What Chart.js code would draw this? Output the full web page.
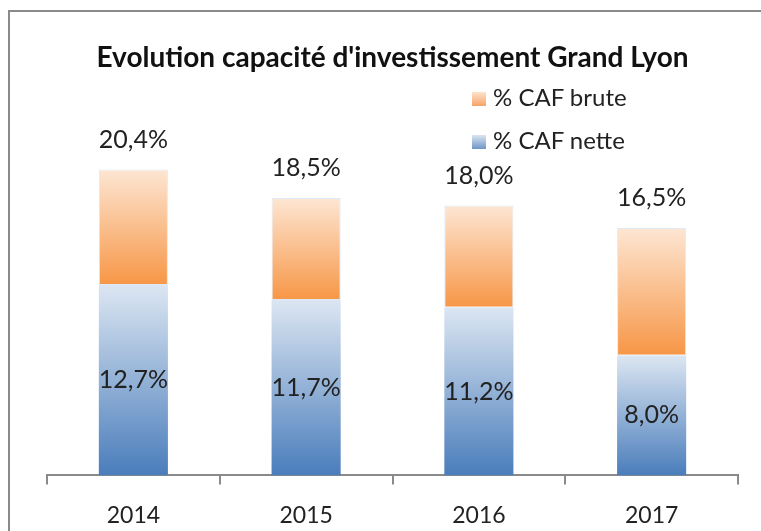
<!DOCTYPE html>
<html>
<head>
<meta charset="utf-8">
<script src="https://cdn.jsdelivr.net/npm/chart.js@4/dist/chart.umd.min.js"></script>
<style>
body { margin:0; background:#fff; width:761px; height:531px; overflow:hidden; position:relative; font-family: Lato, "Open Sans", sans-serif; }
#frame { position:absolute; left:8px; top:10px; width:800px; height:600px; border-left:2px solid #8a8a8a; border-top:2px solid #8a8a8a; }
#wrap { position:absolute; left:0; top:0; width:761px; height:546px; }
.leg { position:absolute; left:472px; font-size:24px; color:#222; line-height:28px; }
.leg span.sq { display:inline-block; width:14px; height:14px; margin-right:7px; vertical-align:0px; }
</style>
</head>
<body>
<div id="frame"></div>
<div id="wrap"><canvas id="chart" width="761" height="546"></canvas></div>
<div class="leg" style="top:83px"><span class="sq" style="background:linear-gradient(#fde3cc,#f7a468)"></span>% CAF brute</div>
<div class="leg" style="top:126px"><span class="sq" style="background:linear-gradient(#dbe5f1,#6d95c8)"></span>% CAF nette</div>
<script>
// données
const annees = ['2014', '2015', '2016', '2017'];
const cafNette = [12.7, 11.7, 11.2, 8.0];
const cafBrute = [20.4, 18.5, 18.0, 16.5];

function fmt(v) {
	return v.toFixed(1).replace('.', ',') + '%';
}

function degrade(ctx, haut, bas) {
	const chart = ctx.chart;
	if (!chart.chartArea || ctx.type !== 'data') return bas;
	const y = chart.scales.y;
	const raw = ctx.raw;
	let lo = 0, hi = raw;
	if (Array.isArray(raw)) { lo = raw[0]; hi = raw[1]; }
	const g = chart.ctx.createLinearGradient(0, y.getPixelForValue(hi), 0, y.getPixelForValue(lo));
	g.addColorStop(0, haut);
	g.addColorStop(1, bas);
	return g;
}

const etiquettes = {
	id: 'etiquettes',
	afterDatasetsDraw(chart) {
		const c = chart.ctx;
		c.save();
		c.font = '25px Lato, "Open Sans", sans-serif';
		c.fillStyle = '#222';
		c.textAlign = 'center';
		c.textBaseline = 'middle';
		chart.getDatasetMeta(0).data.forEach(function (bar, i) {
			c.fillText(fmt(cafBrute[i]), bar.x, bar.y - 30);
		});
		chart.getDatasetMeta(1).data.forEach(function (bar, i) {
			c.fillText(fmt(cafNette[i]), bar.x, (bar.y + bar.base) / 2);
		});
		c.restore();
	}
};

new Chart(document.getElementById('chart'), {
	type: 'bar',
	data: {
		labels: annees,
		datasets: [{
			label: '% CAF brute',
			data: cafBrute.map(function (v, i) { return [cafNette[i], v]; }),
			backgroundColor: function (ctx) { return degrade(ctx, '#fde6d3', '#f79646'); },
			borderColor: 'rgba(200,220,240,0.6)',
			borderWidth: 1,
			borderSkipped: false,
			grouped: false,
			order: 2
		}, {
			label: '% CAF nette',
			data: cafNette,
			backgroundColor: function (ctx) { return degrade(ctx, '#dce6f2', '#4a7dbb'); },
			borderWidth: 0,
			grouped: false,
			order: 1
		}]
	},
	options: {
		responsive: false,
		animation: false,
		events: [],
		layout: { padding: { left: 47, right: 23, top: 0, bottom: 0 } },
		categoryPercentage: 0.8,
		barPercentage: 0.5,
		plugins: {
			legend: { display: false },
			tooltip: { enabled: false },
			title: {
				display: true,
				text: "Evolution capacité d'investissement Grand Lyon",
				color: '#111',
				font: { family: 'Lato, "Open Sans", sans-serif', size: 28, weight: 'bold' },
				padding: { top: 41, bottom: 26 }
			}
		},
		scales: {
			x: {
				grid: { drawOnChartArea: false, drawTicks: true, tickLength: 9, color: '#8a8a8a', lineWidth: 2, offset: true },
				border: { color: '#8a8a8a', width: 2 },
				ticks: { color: '#222', font: { family: 'Lato, "Open Sans", sans-serif', size: 23 }, padding: 17 }
			},
			y: {
				display: false,
				min: 0,
				max: 25
			}
		}
	},
	plugins: [etiquettes]
});
</script>
</body>
</html>
